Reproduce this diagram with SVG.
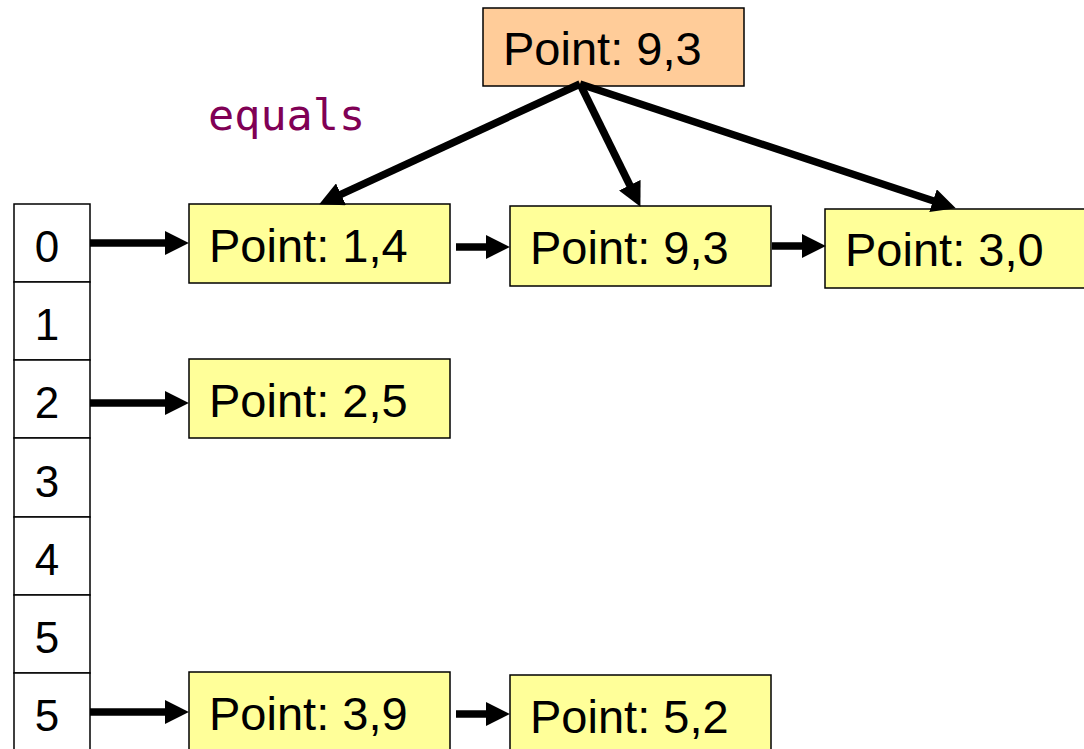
<svg xmlns="http://www.w3.org/2000/svg" width="1084" height="749" viewBox="0 0 1084 749">
<style>
.cell{fill:#ffffff;stroke:#000;stroke-width:1.5}
.idx{font-family:"Liberation Sans",Arial,sans-serif;font-size:44px;fill:#000;text-anchor:middle}
.node{fill:#ffff99;stroke:#000;stroke-width:1.5}
.query{fill:#ffcc99;stroke:#000;stroke-width:1.5}
.lbl{font-family:"Liberation Sans",Arial,sans-serif;font-size:47px;fill:#000}
.conn{stroke:#000;stroke-width:7.5;fill:none;marker-end:url(#ah)}
.eq{font-family:"DejaVu Sans Mono",monospace;font-size:43.5px;fill:#800055}
</style>
<defs>
<marker id="ah" markerUnits="userSpaceOnUse" markerWidth="24" markerHeight="24" viewBox="0 0 23 23" refX="3" refY="11.5" orient="auto">
<path d="M0,0 L23,11.5 L0,23 Z" fill="#000"/>
</marker>
</defs>
<rect width="1084" height="749" fill="#fff"/>
<g id="array">
<g id="cell0"><rect class="cell" x="14" y="204" width="76" height="78"/><text class="idx" x="47" y="262">0</text></g>
<g id="cell1"><rect class="cell" x="14" y="282" width="76" height="78"/><text class="idx" x="47" y="340">1</text></g>
<g id="cell2"><rect class="cell" x="14" y="360" width="76" height="78"/><text class="idx" x="47" y="418">2</text></g>
<g id="cell3"><rect class="cell" x="14" y="438" width="76" height="79"/><text class="idx" x="47" y="497">3</text></g>
<g id="cell4"><rect class="cell" x="14" y="517" width="76" height="78"/><text class="idx" x="47" y="575">4</text></g>
<g id="cell5a"><rect class="cell" x="14" y="595" width="76" height="78"/><text class="idx" x="47" y="653">5</text></g>
<g id="cell5b"><rect class="cell" x="14" y="673" width="76" height="90"/><text class="idx" x="47" y="731">5</text></g>
</g>
<g id="query"><rect class="query" x="483" y="8" width="261" height="78"/><text class="lbl" x="503" y="65">Point: 9,3</text></g>
<g id="equals-label"><text class="eq" x="208" y="130">equals</text></g>
<g id="n14"><rect class="node" x="189" y="204" width="261" height="79"/><text class="lbl" x="209" y="262">Point: 1,4</text></g>
<g id="n93"><rect class="node" x="510" y="206" width="261" height="80"/><text class="lbl" x="530" y="264">Point: 9,3</text></g>
<g id="n30"><rect class="node" x="825" y="209" width="265" height="79"/><text class="lbl" x="845" y="266">Point: 3,0</text></g>
<g id="n25"><rect class="node" x="189" y="359" width="261" height="79"/><text class="lbl" x="209" y="417">Point: 2,5</text></g>
<g id="n39"><rect class="node" x="189" y="672" width="261" height="82"/><text class="lbl" x="209" y="730">Point: 3,9</text></g>
<g id="n52"><rect class="node" x="510" y="675" width="261" height="82"/><text class="lbl" x="530" y="733">Point: 5,2</text></g>
<g id="connectors">
<line class="conn" x1="90" y1="243" x2="168" y2="243"/>
<line class="conn" x1="456" y1="247" x2="489" y2="247"/>
<line class="conn" x1="772" y1="246" x2="805" y2="246"/>
<line class="conn" x1="90" y1="403" x2="168" y2="403"/>
<line class="conn" x1="90" y1="712" x2="168" y2="712"/>
<line class="conn" x1="456" y1="714" x2="489" y2="714"/>
<line class="conn" x1="580" y1="84" x2="338.2" y2="195.6"/>
<line class="conn" x1="580" y1="84" x2="631.2" y2="188"/>
<line class="conn" x1="580" y1="84" x2="936" y2="201.7"/>
</g>
</svg>
